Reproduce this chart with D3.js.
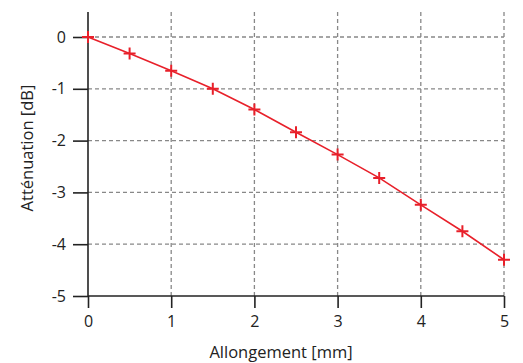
<!DOCTYPE html>
<html>
<head>
<meta charset="utf-8">
<script src="https://cdn.jsdelivr.net/npm/d3@7"></script>
<style>
  body { margin: 0; background: #fff; }
  text { font-family: "Open Sans", "Noto Sans", sans-serif; fill: #222; }
</style>
</head>
<body>
<script>
// data
var elongation = [0, 0.5, 1, 1.5, 2, 2.5, 3, 3.5, 4, 4.5, 5];
var attenuation = [0, -0.32, -0.65, -1.0, -1.40, -1.84, -2.27, -2.72, -3.24, -3.75, -4.30];
var xTicks = [0, 1, 2, 3, 4, 5];
var yTicks = [0, -1, -2, -3, -4, -5];

var width = 523, height = 363;
var plotLeft = 88, plotRight = 504, plotTop = 37, plotBottom = 296;

var x = d3.scaleLinear().domain([0, 5]).range([plotLeft, plotRight]);
var y = d3.scaleLinear().domain([-5, 0]).range([plotBottom, plotTop]);

// plain hyphen for negatives, like the original
var fmt = function(d) { return String(d); };

var svg = d3.select("body").append("svg")
    .attr("width", width)
    .attr("height", height);

// dashed grid
svg.append("g").selectAll("line")
    .data(xTicks.slice(1))
    .enter().append("line")
    .attr("x1", function(d) { return x(d); })
    .attr("x2", function(d) { return x(d); })
    .attr("y1", 12)
    .attr("y2", plotBottom)
    .attr("stroke", "#888")
    .attr("stroke-width", 1.3)
    .attr("stroke-dasharray", "4,3");

svg.append("g").selectAll("line")
    .data(yTicks.slice(0, -1))
    .enter().append("line")
    .attr("x1", plotLeft)
    .attr("x2", plotRight)
    .attr("y1", function(d) { return y(d); })
    .attr("y2", function(d) { return y(d); })
    .attr("stroke", "#888")
    .attr("stroke-width", 1.3)
    .attr("stroke-dasharray", "4,3");

// axes
var xAxis = svg.append("g")
    .attr("transform", "translate(0," + plotBottom + ")")
    .call(d3.axisBottom(x).tickValues(xTicks).tickFormat(fmt)
        .tickSize(12).tickPadding(8).tickSizeOuter(0));
xAxis.select(".domain").remove();
xAxis.selectAll("line").attr("stroke", "#222").attr("stroke-width", 1.6);
xAxis.selectAll("text").style("font-size", "16px").attr("fill", "#222");

var yAxis = svg.append("g")
    .attr("transform", "translate(" + plotLeft + ",0)")
    .call(d3.axisLeft(y).tickValues(yTicks).tickFormat(fmt)
        .tickSize(15).tickPadding(7).tickSizeOuter(0));
yAxis.select(".domain").remove();
yAxis.selectAll("line").attr("stroke", "#222").attr("stroke-width", 1.6);
yAxis.selectAll("text").style("font-size", "16px").attr("fill", "#222");

svg.append("line")
    .attr("x1", plotLeft).attr("x2", plotRight)
    .attr("y1", plotBottom).attr("y2", plotBottom)
    .attr("stroke", "#222").attr("stroke-width", 1.6);
svg.append("line")
    .attr("x1", plotLeft).attr("x2", plotLeft)
    .attr("y1", 12).attr("y2", plotBottom)
    .attr("stroke", "#222").attr("stroke-width", 1.6);

// titles
svg.append("text")
    .attr("x", 281)
    .attr("y", 358)
    .attr("text-anchor", "middle")
    .style("font-size", "16.5px")
    .attr("fill", "#444")
    .text("Allongement [mm]");

svg.append("text")
    .attr("transform", "translate(33,148) rotate(-90)")
    .attr("text-anchor", "middle")
    .style("font-size", "16.5px")
    .attr("fill", "#444")
    .text("Atténuation [dB]");

// line + markers
var pts = elongation.map(function(d, i) { return [d, attenuation[i]]; });

var line = d3.line()
    .x(function(d) { return x(d[0]); })
    .y(function(d) { return y(d[1]); });

svg.append("path")
    .datum(pts)
    .attr("d", line)
    .attr("fill", "none")
    .attr("stroke", "#e8202a")
    .attr("stroke-width", 1.6);

svg.append("g").selectAll("path")
    .data(pts)
    .enter().append("path")
    .attr("d", function(d) {
        var cx = x(d[0]), cy = y(d[1]);
        return "M" + (cx - 6) + "," + cy + "H" + (cx + 6) + "M" + cx + "," + (cy - 6) + "V" + (cy + 6);
    })
    .attr("stroke", "#e8202a")
    .attr("stroke-width", 2);
</script>
</body>
</html>
